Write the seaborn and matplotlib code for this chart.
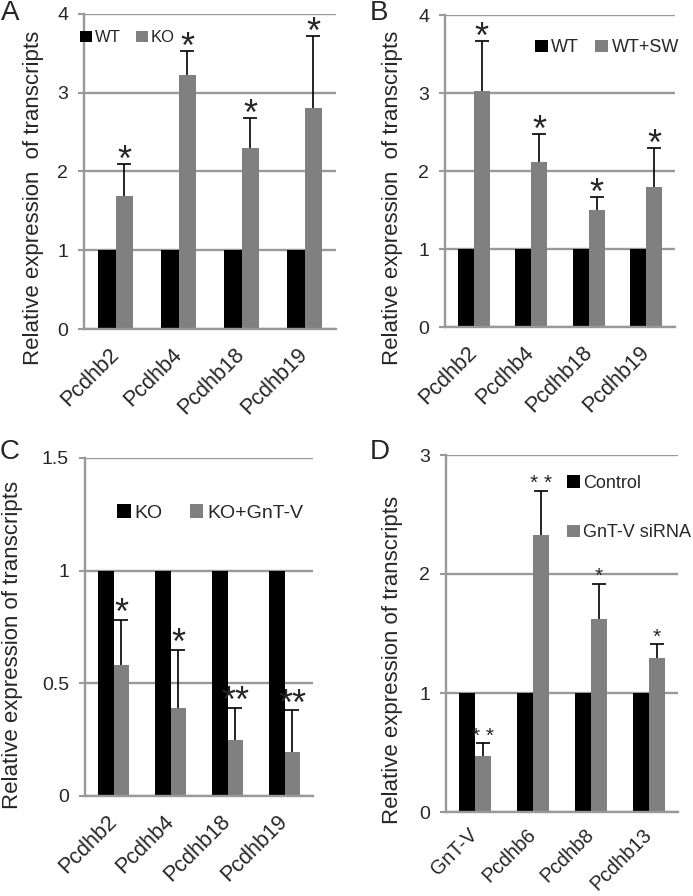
import numpy as np
import pandas as pd
import matplotlib
matplotlib.use("Agg")
import matplotlib.pyplot as plt
import matplotlib.transforms as mtransforms
import seaborn as sns

sns.set_theme(style="white")
plt.rcParams['font.family'] = ['Liberation Sans', 'DejaVu Sans']

# ---------------- data ----------------
genes_abc = ["Pcdhb2", "Pcdhb4", "Pcdhb18", "Pcdhb19"]
genes_d = ["GnT-V", "Pcdhb6", "Pcdhb8", "Pcdhb13"]

a_groups = ["WT", "KO"]
a_ctrl = [1.0, 1.0, 1.0, 1.0]
a_treat = [1.69, 3.22, 2.30, 2.81]
a_err = [0.41, 0.31, 0.38, 0.91]
a_stars = ["*", "*", "*", "*"]

b_groups = ["WT", "WT+SW"]
b_ctrl = [1.0, 1.0, 1.0, 1.0]
b_treat = [3.02, 2.11, 1.50, 1.79]
b_err = [0.65, 0.37, 0.17, 0.50]
b_stars = ["*", "*", "*", "*"]

c_groups = ["KO", "KO+GnT-V"]
c_ctrl = [1.0, 1.0, 1.0, 1.0]
c_treat = [0.58, 0.39, 0.25, 0.195]
c_err = [0.20, 0.26, 0.14, 0.185]
c_stars = ["*", "*", "**", "**"]

d_groups = ["Control", "GnT-V siRNA"]
d_ctrl = [1.0, 1.0, 1.0, 1.0]
d_treat = [0.47, 2.33, 1.62, 1.29]
d_err = [0.11, 0.37, 0.30, 0.12]
d_stars = ["* *", "* *", "*", "*"]

a_yticks = [0, 1, 2, 3, 4]
b_yticks = [0, 1, 2, 3, 4]
c_yticks = [0, 0.5, 1, 1.5]
d_yticks = [0, 1, 2, 3]
c_yticklabels = ["0", "0.5", "1", "1.5"]

BLACK = "#000000"
GREY = "#808080"
LINE = "#999999"

W, H = 693, 896
fig = plt.figure(figsize=(W / 100, H / 100), dpi=100)
shift = mtransforms.ScaledTranslation(3 / 100, 0, fig.dpi_scale_trans)


def px_axes(left, right, top, bottom):
    return fig.add_axes([left / W, 1 - bottom / H, (right - left) / W, (bottom - top) / H])


def panel(ax, genes, groups, ctrl, treat, err, stars, yticks, yticklabels,
          ylabel, ylab_xy, star_fs, star_dy, xfs=15.5, xpad=16):
    df = pd.DataFrame({
        "gene": list(genes) * 2,
        "group": [groups[0]] * len(genes) + [groups[1]] * len(genes),
        "value": list(ctrl) + list(treat),
    })
    sns.barplot(data=df, x="gene", y="value", hue="group", ax=ax,
                palette=[BLACK, GREY], width=0.56, gap=0, saturation=1,
                errorbar=None, legend=False, linewidth=0, zorder=2)
    cont = ax.containers[1]
    xs = np.array([p.get_x() + p.get_width() / 2 for p in cont])
    vals = np.array(treat)
    errs = np.array(err)
    _, caps, _ = ax.errorbar(xs, vals, yerr=[np.zeros_like(errs), errs],
                             fmt="none", ecolor="black", elinewidth=1.2,
                             capsize=4.7, capthick=1.2, zorder=3)
    for cl in caps:
        if np.allclose(cl.get_ydata(), vals):
            cl.set_visible(False)
    for x, v, e, s in zip(xs, vals, errs, stars):
        ax.annotate(s, xy=(x, v + e), xytext=(0, star_dy), textcoords="offset points",
                    ha="center", va="baseline", fontsize=star_fs, zorder=4)

    ax.set_xlim(-0.5, len(genes) - 0.5)
    ax.set_ylim(yticks[0], yticks[-1])
    ax.set_yticks(yticks)
    ax.set_yticklabels(yticklabels, fontsize=14)
    ax.set_xticks(range(len(genes)))
    ax.set_xticklabels(genes, fontsize=xfs, rotation=45, ha="right",
                       va="center", rotation_mode="anchor")
    for lbl in ax.get_xticklabels():
        lbl.set_transform(lbl.get_transform() + shift)
    ax.set_xticks(np.arange(-0.5, len(genes), 1.0), minor=True)
    ax.tick_params(axis="x", which="major", length=0, pad=xpad)
    ax.tick_params(axis="x", which="minor", length=4.5, width=1.5,
                   color=LINE, direction="out")
    ax.tick_params(axis="y", which="major", length=4.5, width=1.5,
                   color=LINE, direction="out", pad=7, left=True)
    ax.set_xlabel("")
    ax.set_ylabel(ylabel, fontsize=16)
    ax.yaxis.set_label_coords(ylab_xy[0] / W, 1 - ylab_xy[1] / H,
                              transform=fig.transFigure)
    ax.grid(axis="y", color=LINE, linewidth=1.7)
    ax.grid(axis="x", visible=False)
    ax.set_axisbelow(True)
    for sp in ["top", "right"]:
        ax.spines[sp].set_visible(False)
    for sp in ["left", "bottom"]:
        ax.spines[sp].set_color(LINE)
        ax.spines[sp].set_linewidth(1.7)
    ax.set_facecolor("white")
    return ax


axA = px_axes(84, 336, 14, 329)
panel(axA, genes_abc, a_groups, a_ctrl, a_treat, a_err, a_stars,
      a_yticks, [str(t) for t in a_yticks], "Relative expression  of transcripts",
      (44, 198), 26, -5)
axB = px_axes(445, 675, 15, 327)
panel(axB, genes_abc, b_groups, b_ctrl, b_treat, b_err, b_stars,
      b_yticks, [str(t) for t in b_yticks], "Relative expression  of transcripts",
      (403, 198), 26, -5)
axC = px_axes(85, 313, 458, 796)
panel(axC, genes_abc, c_groups, c_ctrl, c_treat, c_err, c_stars,
      c_yticks, c_yticklabels, "Relative expression of transcripts",
      (23, 645), 26, -3)
axD = px_axes(446, 678, 455, 812)
panel(axD, genes_d, d_groups, d_ctrl, d_treat, d_err, d_stars,
      d_yticks, [str(t) for t in d_yticks], "Relative expression of transcripts",
      (403, 660), 15, 1, xfs=14.2, xpad=14)


def add_legend(ax, labels, anchor, fs, ncol, colsp=0.8, labsp=0.5):
    handles = [c.patches[0] for c in ax.containers[:2]]
    leg = ax.legend(handles, labels, loc="center left", bbox_to_anchor=anchor,
                    bbox_transform=fig.transFigure, ncol=ncol, frameon=False,
                    fontsize=fs, handlelength=0.7, handleheight=0.7,
                    handletextpad=0.2, columnspacing=colsp, labelspacing=labsp,
                    borderpad=0, borderaxespad=0)
    return leg


add_legend(axA, a_groups, (80 / W, 1 - 38 / H), 12, 2, colsp=0.9)
add_legend(axB, b_groups, (535 / W, 1 - 48 / H), 13, 2, colsp=0.9)
add_legend(axC, c_groups, (117 / W, 1 - 513 / H), 14, 2, colsp=1.4)
add_legend(axD, d_groups, (567 / W, 1 - 508 / H), 13, 1, labsp=1.8)

for lab, x, y in [("A", 1, 0), ("B", 370, 0), ("C", 0, 439), ("D", 370, 439)]:
    fig.text(x / W, 1 - y / H, lab, fontsize=20, ha="left", va="top")

fig.savefig("out.png", dpi=100, facecolor="white")
